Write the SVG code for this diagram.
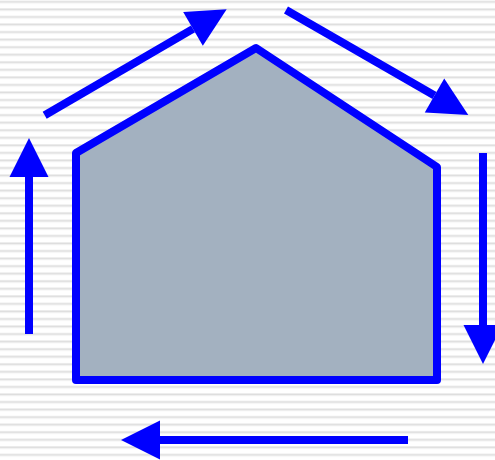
<svg xmlns="http://www.w3.org/2000/svg" width="495" height="460" viewBox="0 0 495 460">
  <defs>
    <pattern id="stripes" x="0" y="0.5" width="10" height="7.55" patternUnits="userSpaceOnUse">
      <rect x="0" y="0" width="10" height="1" fill="#ececec"/>
      <rect x="0" y="1" width="10" height="1.2" fill="#dcdcdc"/>
      <rect x="0" y="2.2" width="10" height="0.8" fill="#ededed"/>
    </pattern>
    <marker id="head" markerUnits="userSpaceOnUse" markerWidth="40" markerHeight="40" refX="0" refY="19.5" orient="auto" overflow="visible">
      <path d="M0,0 L39,19.5 L0,39 Z" fill="#0000ff"/>
    </marker>
    <style>
      .arrow { stroke: #0000ff; stroke-width: 8; fill: none; marker-end: url(#head); }
      .house { fill: #a3b1c0; stroke: #0000ff; stroke-width: 8; stroke-linejoin: round; }
    </style>
  </defs>
  <rect x="0" y="0" width="495" height="460" fill="#ffffff"/>
  <rect x="0" y="0" width="495" height="460" fill="url(#stripes)"/>
  <g id="house">
    <polygon class="house" points="256,48 437,167 437,380 76,380 76,153"/>
  </g>
  <g id="connectors">
    <line class="arrow" x1="29" y1="334" x2="29" y2="177"/>
    <line class="arrow" x1="44.7" y1="115.3" x2="193" y2="28.9"/>
    <line class="arrow" x1="286" y1="10" x2="434.5" y2="95.5"/>
    <line class="arrow" x1="483" y1="153" x2="483" y2="325"/>
    <line class="arrow" x1="408" y1="440" x2="160" y2="440"/>
  </g>
</svg>
